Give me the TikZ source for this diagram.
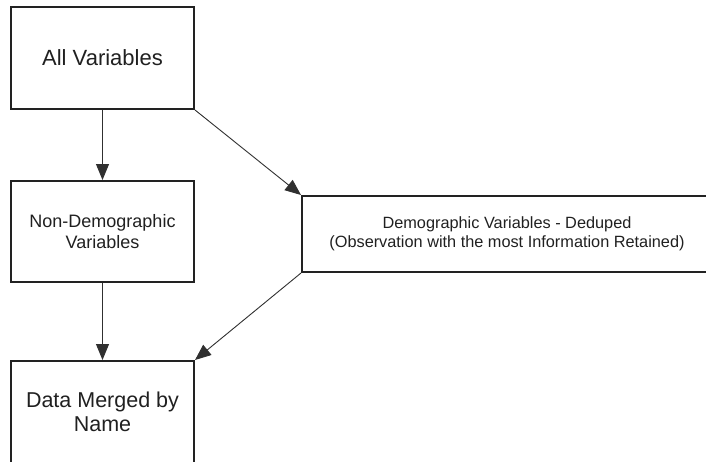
\documentclass[tikz,border=0pt]{standalone}
\usepackage{fontspec}
\setmainfont{Liberation Sans}
\usetikzlibrary{arrows.meta}
\definecolor{boxline}{HTML}{222222}
\definecolor{txt}{HTML}{202020}
\definecolor{conn}{HTML}{303030}
\tikzset{
  flowbox/.style={draw=boxline, line width=2pt, rectangle, inner sep=0pt, align=center, text=txt},
  conn/.style={draw=conn, line width=0.9pt, -{Triangle[length=16pt,width=13pt]}}
}
\begin{document}
\begin{tikzpicture}[x=1pt,y=-1pt]
\useasboundingbox (0,0) rectangle (706,461);
\clip (0,0) rectangle (706,461);
\node[flowbox, minimum width=183pt, minimum height=102pt, font=\fontsize{22}{26}\selectfont] (all) at (102.5,58) {All Variables};
\node[flowbox, minimum width=183pt, minimum height=101pt, font=\fontsize{18}{21}\selectfont] (nondemo) at (102.5,231.5) {Non-Demographic\\Variables};
\node[flowbox, minimum width=410pt, minimum height=76pt, font=\fontsize{16.3}{19.2}\selectfont] (demo) at (507,234) {Demographic Variables - Deduped\\(Observation with the most Information Retained)};
\node[flowbox, minimum width=183pt, minimum height=102pt, font=\fontsize{21.5}{24}\selectfont] (merged) at (102.5,412) {Data Merged by\\Name};
\draw[conn] (all.south) -- (nondemo.north);
\draw[conn] (all.south east) -- (demo.north west);
\draw[conn] (demo.south west) -- (merged.north east);
\draw[conn] (nondemo.south) -- (merged.north);
\end{tikzpicture}
\end{document}
